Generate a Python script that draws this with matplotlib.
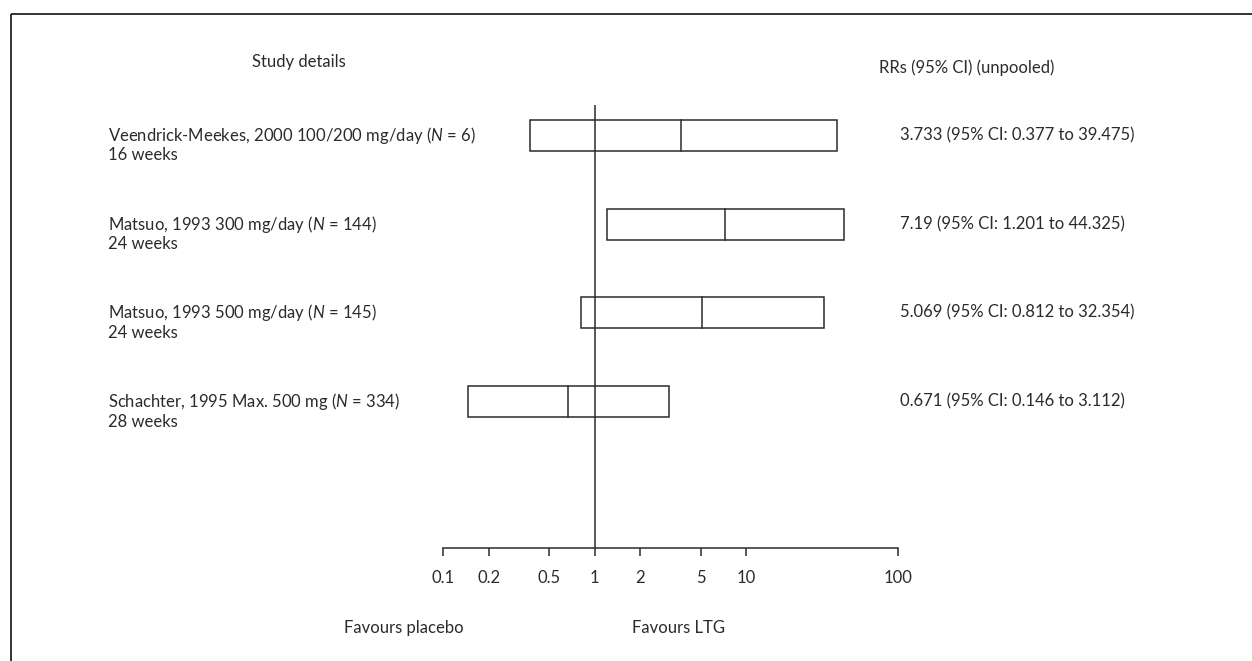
import matplotlib
matplotlib.use("Agg")
import matplotlib.pyplot as plt
from matplotlib.ticker import FixedLocator, FixedFormatter, NullLocator

plt.rcParams['font.family'] = ['Lato', 'DejaVu Sans']
plt.rcParams['mathtext.fontset'] = 'custom'
plt.rcParams['mathtext.rm'] = 'Lato'
plt.rcParams['mathtext.it'] = 'Lato:italic'

# study rows, top to bottom
studies = ["Veendrick-Meekes, 2000 100/200 mg/day",
           "Matsuo, 1993 300 mg/day",
           "Matsuo, 1993 500 mg/day",
           "Schachter, 1995 Max. 500 mg"]
n_pts = [6, 144, 145, 334]
weeks = [16, 24, 24, 28]
rr = [3.733, 7.19, 5.069, 0.671]
ci_lo = [0.377, 1.201, 0.812, 0.146]
ci_hi = [39.475, 44.325, 32.354, 3.112]

tick_vals = [0.1, 0.2, 0.5, 1, 2, 5, 10, 100]
tick_text = ["0.1", "0.2", "0.5", "1", "2", "5", "10", "100"]

ink = "#2b2b2b"
W, H = 1252, 661

fig = plt.figure(figsize=(W / 100, H / 100), dpi=100)

# overlay in pixel units for the frame and the text columns
tx = fig.add_axes([0, 0, 1, 1])
tx.set_xlim(0, W)
tx.set_ylim(H, 0)
tx.axis("off")
tx.plot([11, W], [14, 14], color="#111111", lw=1.2, solid_capstyle="butt")
tx.plot([11, 11], [14, H], color="#111111", lw=1.2, solid_capstyle="butt")

fs = 12
tx.text(252, 62, "Study details", fontsize=fs, color=ink, va="center", ha="left")
tx.text(879, 68, "RRs (95% CI) (unpooled)", fontsize=fs, color=ink, va="center", ha="left")
tx.text(404, 628, "Favours placebo", fontsize=fs, color=ink, va="center", ha="center")
tx.text(679, 628, "Favours LTG", fontsize=fs, color=ink, va="center", ha="center")

# forest plot area: log x from 0.1 to 100, rows by index
x0, x1 = 443, 898
ytop, ybot = 105, 548
row0, step = 135.5, 88.67
ax = fig.add_axes([x0 / W, 1 - ybot / H, (x1 - x0) / W, (ybot - ytop) / H])
ax.set_xscale("log")
ax.set_xlim(0.1, 100)
ax.set_ylim((ybot - row0) / step, (ytop - row0) / step)
ax.patch.set_alpha(0)
for s in ["top", "left", "right"]:
    ax.spines[s].set_visible(False)
ax.spines["bottom"].set_color(ink)
ax.spines["bottom"].set_linewidth(1.1)
ax.yaxis.set_major_locator(NullLocator())
ax.xaxis.set_major_locator(FixedLocator(tick_vals))
ax.xaxis.set_major_formatter(FixedFormatter(tick_text))
ax.xaxis.set_minor_locator(NullLocator())
ax.tick_params(axis="x", direction="out", length=6, width=1.1, color=ink,
               labelsize=fs, labelcolor=ink, pad=10)

ax.axvline(1, color=ink, lw=1.1)

box_h = 0.35
for i in range(len(studies)):
    ax.add_patch(plt.Rectangle((ci_lo[i], i - box_h / 2), ci_hi[i] - ci_lo[i], box_h,
                               fill=False, edgecolor=ink, lw=1.1))
    ax.plot([rr[i], rr[i]], [i - box_h / 2, i + box_h / 2], color=ink, lw=1.1)

    yc = row0 + i * step
    tx.text(108, yc, studies[i] + " ($\\mathit{N}$ = %d)" % n_pts[i],
            fontsize=fs, color=ink, va="center", ha="left")
    tx.text(108, yc + 20, "%d weeks" % weeks[i], fontsize=fs, color=ink,
            va="center", ha="left")
    tx.text(900, yc, "%s (95%% CI: %s to %s)" % (rr[i], ci_lo[i], ci_hi[i]),
            fontsize=fs, color=ink, va="center", ha="left")

fig.savefig("out.png", dpi=100)
